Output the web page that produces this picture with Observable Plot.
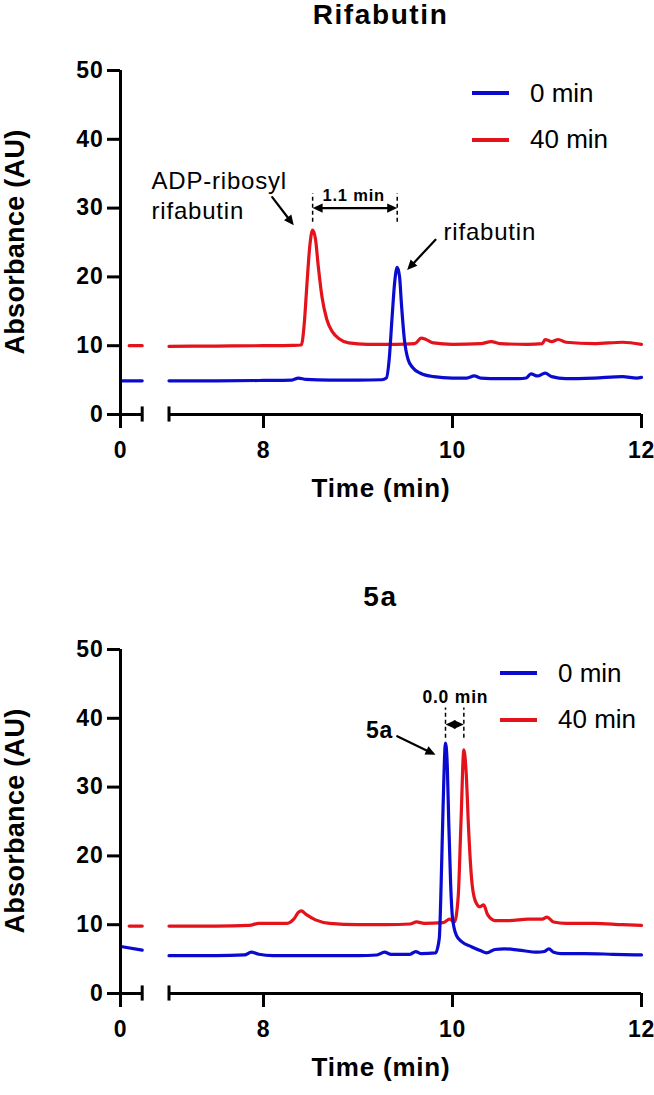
<!DOCTYPE html>
<html><head><meta charset="utf-8">
<script src="https://cdn.jsdelivr.net/npm/d3@7"></script>
<script src="https://cdn.jsdelivr.net/npm/@observablehq/plot@0.6"></script>
<style>
html,body{margin:0;padding:0;background:#fff;}
#root{position:relative;width:654px;height:1095px;font-family:"Liberation Sans",Arial,sans-serif;overflow:hidden;}
.title{position:absolute;left:120px;width:521px;text-align:center;font-weight:bold;font-size:28px;line-height:28px;letter-spacing:1.6px;color:#000;}
.ylab{position:absolute;font-weight:bold;font-size:27px;line-height:27px;white-space:nowrap;color:#000;transform:translate(-50%,-50%) rotate(-90deg);letter-spacing:0.3px;}
.leg{position:absolute;display:flex;align-items:center;height:30px;font-size:26px;color:#000;white-space:nowrap;}
.leg .sw{width:37px;height:4px;margin-right:21px;}
.panel{position:absolute;left:0;}
svg text{letter-spacing:0.8px;}
svg g[aria-label="y-axis tick label"], svg g[aria-label="x-axis tick label"]{font-size:23px;font-weight:bold;}
</style></head>
<body><div id="root"></div>
<script>
// ---------- data ----------
const seriesNames = ["0 min", "40 min"];
const seriesColors = ["#0b0bd0", "#e3121b"];
const xTicks = [0, 8, 10, 12];
const yTicks = [0, 10, 20, 30, 40, 50];
const xBreak = [0.25, 7];   // last value before the break, first value after it
const xEnd = 12;

// Rifabutin, 0 min (blue)
const rif0T = [7.0, 7.5, 8.0, 8.3, 8.37, 8.45, 8.7, 9.0, 9.25, 9.30, 9.33, 9.36, 9.39, 9.415, 9.44, 9.46, 9.49, 9.53, 9.58, 9.66, 9.8, 10.0, 10.15, 10.23, 10.30, 10.5, 10.7, 10.78, 10.83, 10.90, 10.98, 11.05, 11.2, 11.5, 11.8, 11.95, 12.0];
const rif0V = [4.9, 4.9, 4.95, 5.0, 5.3, 5.1, 5.0, 5.0, 5.05, 5.3, 8, 14, 19.5, 21.4, 20, 16, 11, 8, 6.8, 6.0, 5.5, 5.3, 5.3, 5.6, 5.3, 5.2, 5.2, 5.3, 5.9, 5.6, 6.0, 5.5, 5.2, 5.3, 5.5, 5.3, 5.4];
const rif0BreakT = [0, 0.25];
const rif0BreakV = [4.9, 4.9];
// Rifabutin, 40 min (red)
const rif40T = [7.0, 7.5, 8.0, 8.3, 8.40, 8.43, 8.46, 8.49, 8.52, 8.55, 8.58, 8.62, 8.67, 8.73, 8.8, 8.9, 9.1, 9.4, 9.6, 9.67, 9.72, 9.8, 10.0, 10.3, 10.41, 10.5, 10.8, 10.95, 10.98, 11.05, 11.12, 11.2, 11.5, 11.8, 12.0];
const rif40V = [9.9, 9.95, 10.0, 10.05, 10.1, 13, 19, 24.5, 26.8, 25.5, 21.5, 17, 13.8, 12, 11, 10.4, 10.2, 10.2, 10.3, 11.1, 10.9, 10.4, 10.2, 10.3, 10.6, 10.3, 10.2, 10.3, 10.9, 10.6, 10.9, 10.5, 10.3, 10.5, 10.2];
const rif40BreakT = [0.1, 0.25];
const rif40BreakV = [10, 10];

// 5a, 0 min (blue)
const c5a0T = [7.0, 7.5, 7.8, 7.87, 7.95, 8.1, 8.5, 9.0, 9.2, 9.28, 9.35, 9.55, 9.61, 9.67, 9.82, 9.86, 9.88, 9.90, 9.926, 9.945, 9.96, 9.98, 10.0, 10.04, 10.1, 10.2, 10.3, 10.36, 10.45, 10.55, 10.7, 10.9, 10.97, 11.02, 11.07, 11.15, 11.4, 11.7, 12.0];
const c5a0V = [5.5, 5.5, 5.6, 6.0, 5.7, 5.5, 5.5, 5.5, 5.6, 6.0, 5.7, 5.7, 6.1, 5.8, 5.9, 8, 16, 27, 36.4, 33, 25, 16, 11, 8.5, 7.5, 6.8, 6.2, 5.9, 6.4, 6.5, 6.3, 6.0, 6.1, 6.5, 6.0, 5.8, 5.8, 5.7, 5.6];
const c5a0BreakT = [0.02, 0.25];
const c5a0BreakV = [6.8, 6.3];
// 5a, 40 min (red)
const c5a40T = [7.0, 7.5, 7.85, 7.95, 8.25, 8.32, 8.37, 8.40, 8.45, 8.55, 8.7, 9.0, 9.3, 9.55, 9.62, 9.7, 9.9, 9.97, 10.02, 10.06, 10.09, 10.12, 10.145, 10.17, 10.2, 10.24, 10.29, 10.33, 10.37, 10.45, 10.6, 10.8, 10.95, 11.0, 11.07, 11.2, 11.5, 11.8, 12.0];
const c5a40V = [9.8, 9.8, 9.9, 10.2, 10.2, 10.8, 11.8, 12.0, 11.5, 10.7, 10.2, 10.0, 10.0, 10.1, 10.4, 10.2, 10.3, 10.8, 10.4, 14, 25, 35.4, 32, 24, 17, 13.5, 12.6, 12.9, 11.5, 10.6, 10.6, 10.8, 10.8, 11.1, 10.4, 10.2, 10.2, 10.0, 9.9];
const c5a40BreakT = [0.1, 0.25];
const c5a40BreakV = [9.8, 9.8];

// annotations (data coordinates)
const rifLabels = [
  {x: 7, y: 32.05, text: "ADP-ribosyl\nrifabutin", anchor: "start", dx: -17.5, size: 24, weight: "normal"},
  {x: 9.905, y: 26.7, text: "rifabutin", anchor: "start", dx: 0, size: 24, weight: "normal"},
  {x: 8.955, y: 31.98, text: "1.1 min", anchor: "middle", dx: 0, size: 16.5, weight: "bold"}
];
const rifArrows = [
  {x1: 8.092, y1: 31.6, x2: 8.32, y2: 27.5},
  {x1: 9.82, y1: 25.4, x2: 9.52, y2: 21.0},
  {x1: 8.9675, y1: 30.0, x2: 8.52, y2: 30.0},
  {x1: 8.9675, y1: 30.0, x2: 9.415, y2: 30.0}
];
const rifDashes = [{x: 8.52, y1: 27.95, y2: 32.1}, {x: 9.415, y1: 27.95, y2: 32.1}];

const c5aLabels = [
  {x: 9.372, y: 38.5, text: "5a", anchor: "end", dx: 0, size: 23, weight: "bold"},
  {x: 10.03, y: 43.2, text: "0.0 min", anchor: "middle", dx: 0, size: 17.5, weight: "bold"}
];
const c5aArrows = [
  {x1: 9.415, y1: 37.4, x2: 9.82, y2: 34.7},
  {x1: 10.023, y1: 39.1, x2: 9.926, y2: 39.1},
  {x1: 10.023, y1: 39.1, x2: 10.12, y2: 39.1}
];
const c5aDashes = [{x: 9.926, y1: 37.1, y2: 41.5}, {x: 10.12, y1: 37.1, y2: 41.5}];

// ---------- drawing ----------
function toRows(t, v, s, seg) { return t.map((d, i) => ({t: d, v: v[i], s, seg})); }

function labelMarks(labels) {
  return labels.map(d => Plot.text([d], {
    x: "x", y: "y", text: "text", textAnchor: d.anchor, dx: d.dx,
    fontSize: d.size, fontWeight: d.weight, lineHeight: 1.25, lineAnchor: "middle", fill: "black"
  }));
}

// arrow with a filled triangular head (head drawn from the scaled channel values)
function filledArrows(arrows) {
  const HL = 10, HW = 4.6;
  return Plot.arrow(arrows, {
    x1: "x1", y1: "y1", x2: "x2", y2: "y2", stroke: "black", strokeWidth: 2.2,
    headLength: 0, insetEnd: 7,
    render(index, scales, values, dimensions, context, next) {
      const g = next(index, scales, values, dimensions, context);
      const {x1: X1, y1: Y1, x2: X2, y2: Y2} = values;
      for (const i of index) {
        const a = Math.atan2(Y2[i] - Y1[i], X2[i] - X1[i]);
        const c = Math.cos(a), s = Math.sin(a);
        const bx = X2[i] - HL * c, by = Y2[i] - HL * s;
        const p = document.createElementNS("http://www.w3.org/2000/svg", "path");
        p.setAttribute("d", `M${X2[i]},${Y2[i]}L${bx - HW * s},${by + HW * c}L${bx + HW * s},${by - HW * c}Z`);
        p.setAttribute("fill", "black");
        p.setAttribute("stroke", "none");
        g.appendChild(p);
      }
      return g;
    }
  });
}

function panel(rows, labels, arrows, dashes) {
  return Plot.plot({
    width: 654, height: 505,
    marginLeft: 120, marginRight: 13, marginTop: 70, marginBottom: 91,
    style: {fontFamily: "'Liberation Sans', Arial, sans-serif", background: "white", overflow: "visible", color: "black"},
    x: {type: "linear", domain: [0, xBreak[0], xBreak[1], xEnd], range: [120, 141.7, 168.5, 641]},
    y: {domain: [0, 50]},
    color: {domain: seriesNames, range: seriesColors},
    marks: [
      Plot.line(rows, {x: "t", y: "v", z: d => d.s + "|" + d.seg, stroke: "s", strokeWidth: 3.2, curve: "monotone-x"}),
      // axis lines with break
      Plot.ruleY([{x1: 0, x2: xBreak[0]}, {x1: xBreak[1], x2: xEnd}], {y: () => 0, x1: "x1", x2: "x2", strokeWidth: 3}),
      Plot.ruleX(xBreak, {x: d => d, y1: () => -1.1, y2: () => 1.1, strokeWidth: 3}),
      Plot.ruleX([0], {x: d => d, y1: () => 0, y2: () => 50, strokeWidth: 3}),
      Plot.axisY({ticks: yTicks, tickSize: 13, tickPadding: 4, fontSize: 23, fontWeight: "bold", label: null, strokeWidth: 3, tickFormat: d => String(d)}),
      Plot.axisX({ticks: xTicks, tickSize: 14, tickPadding: 13, fontSize: 23, fontWeight: "bold", label: null, strokeWidth: 3, tickFormat: d => String(d)}),
      Plot.text(["Time (min)"], {frameAnchor: "bottom", dy: 74, fontSize: 26, fontWeight: "bold", lineAnchor: "middle", fill: "black"}),
      // annotations
      Plot.ruleX(dashes, {x: "x", y1: "y1", y2: "y2", strokeWidth: 1.5, strokeDasharray: "4,3"}),
      filledArrows(arrows),
      ...labelMarks(labels)
    ]
  });
}

const root = document.getElementById("root");
function addDiv(cls, text, styles) {
  const d = document.createElement("div"); d.className = cls; d.textContent = text;
  Object.assign(d.style, styles); root.appendChild(d); return d;
}
function addLegend(left, tops) {
  seriesNames.forEach((name, i) => {
    const d = addDiv("leg", "", {left: left + "px", top: tops[i] + "px"});
    const sw = document.createElement("div"); sw.className = "sw"; sw.style.background = seriesColors[i];
    const tx = document.createElement("span"); tx.textContent = name;
    d.appendChild(sw); d.appendChild(tx);
  });
}

const rifRows = [
  ...toRows(rif40BreakT, rif40BreakV, "40 min", 1), ...toRows(rif40T, rif40V, "40 min", 2),
  ...toRows(rif0BreakT, rif0BreakV, "0 min", 1), ...toRows(rif0T, rif0V, "0 min", 2)
];
const c5aRows = [
  ...toRows(c5a40BreakT, c5a40BreakV, "40 min", 1), ...toRows(c5a40T, c5a40V, "40 min", 2),
  ...toRows(c5a0BreakT, c5a0BreakV, "0 min", 1), ...toRows(c5a0T, c5a0V, "0 min", 2)
];

const p1 = panel(rifRows, rifLabels, rifArrows, rifDashes);
p1.classList.add("panel"); p1.style.top = "0px"; root.appendChild(p1);
const p2 = panel(c5aRows, c5aLabels, c5aArrows, c5aDashes);
p2.classList.add("panel"); p2.style.top = "579px"; root.appendChild(p2);

addDiv("title", "Rifabutin", {top: "1px"});
addDiv("title", "5a", {top: "582.5px"});
addDiv("ylab", "Absorbance (AU)", {left: "15px", top: "242px"});
addDiv("ylab", "Absorbance (AU)", {left: "15px", top: "821px"});
addLegend(472, [78, 124.5]);
addLegend(500, [658, 704.5]);
</script></body></html>
